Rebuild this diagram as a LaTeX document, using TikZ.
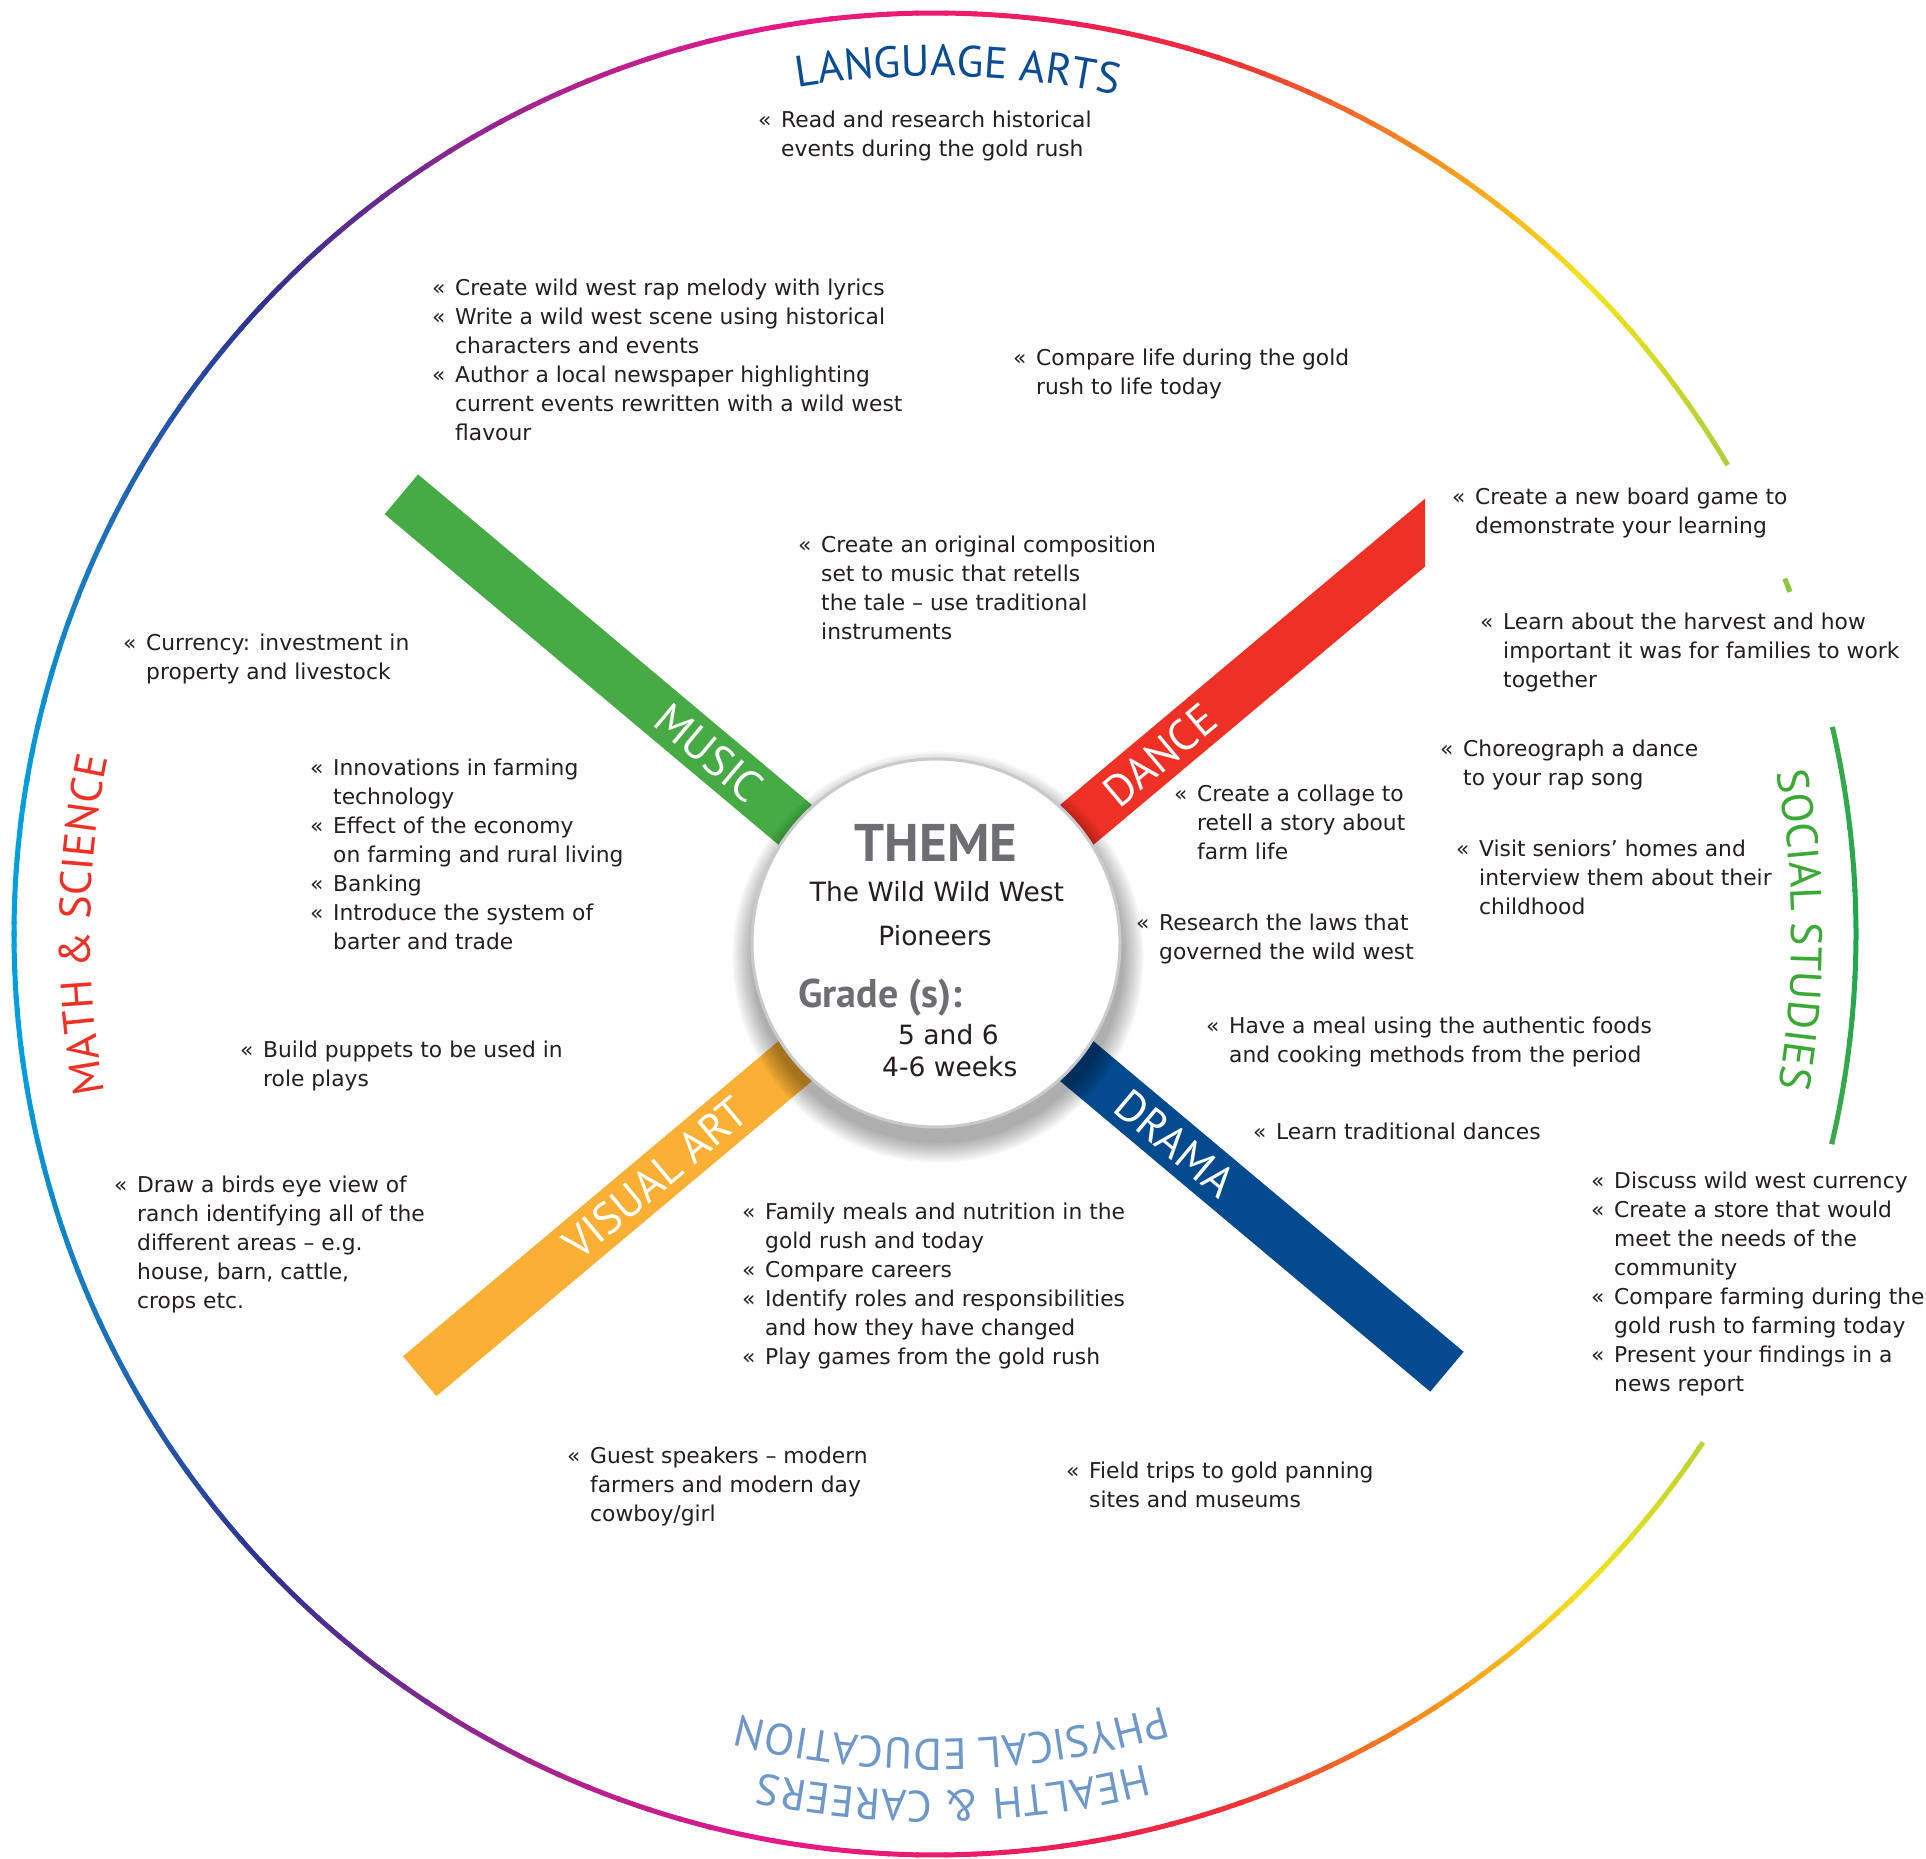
\documentclass[tikz,border=0pt]{standalone}
\usepackage{fontspec}
\setmainfont{DejaVu Sans}
\newfontfamily\headfont{PT Sans}
\usetikzlibrary{decorations.text}

\definecolor{musicgreen}{HTML}{46AB44}
\definecolor{dancered}{HTML}{EE3124}
\definecolor{artorange}{HTML}{F9B034}
\definecolor{dramablue}{HTML}{044A8E}
\definecolor{langblue}{HTML}{0B4D92}
\definecolor{mathred}{HTML}{EE3124}
\definecolor{socgreen}{HTML}{3AAA35}
\definecolor{healthblue}{HTML}{6E98C9}
\definecolor{themegray}{HTML}{6D6E71}
\definecolor{rimgray}{HTML}{C8CACC}
\definecolor{bodyblack}{HTML}{231F20}
% ring colours, by angle
\definecolor{rgA}{HTML}{1EA650}
\definecolor{rgB}{HTML}{3AAA48}
\definecolor{rgC}{HTML}{8CC63F}
\definecolor{rgD}{HTML}{AECF39}
\definecolor{rgE}{HTML}{F4E41C}
\definecolor{rgF}{HTML}{F7941E}
\definecolor{rgG}{HTML}{EE2D36}
\definecolor{rgH}{HTML}{EC1F5A}
\definecolor{rgI}{HTML}{E6198A}
\definecolor{rgJ}{HTML}{92278F}
\definecolor{rgK}{HTML}{2E3192}
\definecolor{rgL}{HTML}{1C75BC}
\definecolor{rgM}{HTML}{00A0DE}

\newcommand{\bul}{\makebox[23pt][l]{«}}
\newcommand{\cont}{\hspace*{23pt}}
\newcommand{\blk}[1]{\begin{tabular}[t]{@{}l@{}}#1\end{tabular}}

\tikzset{
  ring/.style={line width=5pt},
  bar/.style={line width=52pt},
  barlabel/.style={text=white, font=\headfont\fontsize{44}{44}\selectfont, inner sep=0pt},
  entry/.style={anchor=base west, inner sep=0pt, text=bodyblack, font=\fontsize{21.8}{28.9}\selectfont},
  themetext/.style={inner sep=0pt, text=bodyblack, font=\fontsize{26.5}{30}\selectfont},
  themehead/.style={inner sep=0pt, text=themegray, font=\headfont\bfseries\fontsize{#1}{#1}\selectfont}
}

\begin{document}
\begin{tikzpicture}[x=1pt,y=1pt]
\useasboundingbox (0,0) rectangle (1926,1859);
\coordinate (rc) at (935,925);
\coordinate (hub) at (936,916);

% outer ring
\foreach \a/\b/\ca/\cb in {0/13/rgA/rgB, 13/22/rgB/rgC, 22/31/rgC/rgD, 31/45/rgD/rgE, 45/57/rgE/rgF, 57/72/rgF/rgG, 72/82/rgG/rgH, 82/100/rgH/rgI, 100/120/rgI/rgJ, 120/137/rgJ/rgK, 137/155/rgK/rgL, 155/172/rgL/rgM, 172/180/rgM/rgM}{
  \foreach \t in {0,...,9}{
    \pgfmathsetmacro\s{\a+(\b-\a)*\t/10}
    \pgfmathsetmacro\e{\a+(\b-\a)*(\t+1)/10+0.2}
    \pgfmathsetmacro\ns{-\s}
    \pgfmathsetmacro\ne{-\e}
    \pgfmathtruncatemacro\p{95-10*\t}
    \draw[ring, \ca!\p!\cb] ([shift={(\s:921)}]rc) arc (\s:\e:921);
    \draw[ring, \ca!\p!\cb] ([shift={(\ns:921)}]rc) arc (\ns:\ne:921);
  }
}
\draw[white, line width=10pt] ([shift={(13:921)}]rc) arc (13:21.8:921);
\draw[white, line width=10pt] ([shift={(22.7:921)}]rc) arc (22.7:30.6:921);
\draw[white, line width=10pt] ([shift={(-13.2:921)}]rc) arc (-13.2:-33.5:921);

% subject titles
\path[decorate, decoration={text along path, text align=center, text color=langblue,
  text={|\headfont\fontsize{44}{44}\selectfont|LANGUAGE ARTS}}]
  ([shift={(118.5:858)}]rc) arc (118.5:58.5:858);
\path[decorate, decoration={text along path, text align=center, text color=mathred,
  text={|\headfont\fontsize{44}{44}\selectfont|MATH {\&} SCIENCE}}]
  ([shift={(209.4:845)}]rc) arc (209.4:149.4:845);
\path[decorate, decoration={text along path, text align=center, text color=socgreen,
  text={|\headfont\fontsize{44}{44}\selectfont|SOCIAL STUDIES}}]
  ([shift={(30.3:857)}]rc) arc (30.3:-29.7:857);
\path[decorate, decoration={text along path, text align=center, text color=healthblue,
  text={|\headfont\fontsize{44}{44}\selectfont|HEALTH {\&} CAREERS}}]
  ([shift={(-58.8:857)}]rc) arc (-58.8:-118.8:857);
\path[decorate, decoration={text along path, text align=center, text color=healthblue,
  text={|\headfont\fontsize{44}{44}\selectfont|PHYSICAL EDUCATION}}]
  ([shift={(-58.8:805)}]rc) arc (-58.8:-118.8:805);

% arts bars
\draw[bar, musicgreen] (hub) -- ++(140:698);
\draw[bar, artorange] (hub) -- ++(220:674);
\draw[bar, dramablue] (hub) -- ++(-40:667);
\begin{scope}
\clip (0,0) rectangle (1425,1859);
\draw[bar, dancered] (hub) -- ++(40:700);
\end{scope}

% theme circle
\foreach \k in {1,...,12}
  \fill[black, opacity=0.032] ([shift={(2,-14)}]hub) circle ({184+1.8*\k});
\node[circle, fill=white, draw=rimgray, line width=3pt, minimum size=368pt, inner sep=0pt] (theme) at (hub) {};
\node[themehead=53, anchor=base] (themetitle) at (936,997) {THEME};
\node[themetext, anchor=base] (wild) at (937,957) {The Wild Wild West};
\node[themetext, anchor=base] (pioneers) at (935,913) {Pioneers};
\node[themehead=40, anchor=base west] (grade) at (798,851) {Grade (s):};
\node[themetext, anchor=base west] (years) at (898,814) {5 and 6};
\node[themetext, anchor=base west] (weeks) at (882,782) {4-6 weeks};

% bar labels
\path (hub) ++(140:296) node[barlabel, rotate=-40] (music) {MUSIC};
\path (hub) ++(40:292) node[barlabel, rotate=40] (dance) {DANCE};
\path (hub) ++(220:366) node[barlabel, rotate=40] (visualart) {VISUAL ART};
\path (hub) ++(-40:312) node[barlabel, rotate=-40] (drama) {DRAMA};

% language arts
\node[entry] (lang1) at (758,1731) {\blk{\bul Read and research historical\\
  \cont events during the gold rush}};
\node[entry] (lang2) at (432,1563) {\blk{\bul Create wild west rap melody with lyrics\\
  \bul Write a wild west scene using historical\\
  \cont characters and events\\
  \bul Author a local newspaper highlighting\\
  \cont current events rewritten with a wild west\\
  \cont flavour}};
\node[entry] (lang3) at (1013,1493) {\blk{\bul Compare life during the gold\\
  \cont rush to life today}};
\node[entry] (lang4) at (798,1306) {\blk{\bul Create an original composition\\
  \cont set to music that retells\\
  \cont the tale – use traditional\\
  \cont instruments}};

% social studies
\node[entry] (soc1) at (1452,1354) {\blk{\bul Create a new board game to\\
  \cont demonstrate your learning}};
\node[entry] (soc2) at (1480,1229) {\blk{\bul Learn about the harvest and how\\
  \cont important it was for families to work\\
  \cont together}};
\node[entry] (soc3) at (1440,1102) {\blk{\bul Choreograph a dance\\
  \cont to your rap song}};
\node[entry] (soc4) at (1174,1057) {\blk{\bul Create a collage to\\
  \cont retell a story about\\
  \cont farm life}};
\node[entry] (soc5) at (1456,1002) {\blk{\bul Visit seniors’ homes and\\
  \cont interview them about their\\
  \cont childhood}};
\node[entry] (soc6) at (1136,928) {\blk{\bul Research the laws that\\
  \cont governed the wild west}};
\node[entry] (soc7) at (1206,825) {\blk{\bul Have a meal using the authentic foods\\
  \cont and cooking methods from the period}};
\node[entry] (soc8) at (1253,719) {\blk{\bul Learn traditional dances}};
\node[entry] (soc9) at (1591,670) {\blk{\bul Discuss wild west currency\\
  \bul Create a store that would\\
  \cont meet the needs of the\\
  \cont community\\
  \bul Compare farming during the\\
  \cont gold rush to farming today\\
  \bul Present your findings in a\\
  \cont news report}};

% math and science
\node[entry] (math1) at (123,1208) {\blk{\bul Currency: investment in\\
  \cont property and livestock}};
\node[entry] (math2) at (310,1083) {\blk{\bul Innovations in farming\\
  \cont technology\\
  \bul Effect of the economy\\
  \cont on farming and rural living\\
  \bul Banking\\
  \bul Introduce the system of\\
  \cont barter and trade}};
\node[entry] (math3) at (240,801) {\blk{\bul Build puppets to be used in\\
  \cont role plays}};
\node[entry] (math4) at (114,666) {\blk{\bul Draw a birds eye view of\\
  \cont ranch identifying all of the\\
  \cont different areas – e.g.\\
  \cont house, barn, cattle,\\
  \cont crops etc.}};

% health and careers
\node[entry] (health1) at (742,639) {\blk{\bul Family meals and nutrition in the\\
  \cont gold rush and today\\
  \bul Compare careers\\
  \bul Identify roles and responsibilities\\
  \cont and how they have changed\\
  \bul Play games from the gold rush}};
\node[entry] (health2) at (567,395) {\blk{\bul Guest speakers – modern\\
  \cont farmers and modern day\\
  \cont cowboy/girl}};
\node[entry] (health3) at (1066,380) {\blk{\bul Field trips to gold panning\\
  \cont sites and museums}};
\end{tikzpicture}
\end{document}
